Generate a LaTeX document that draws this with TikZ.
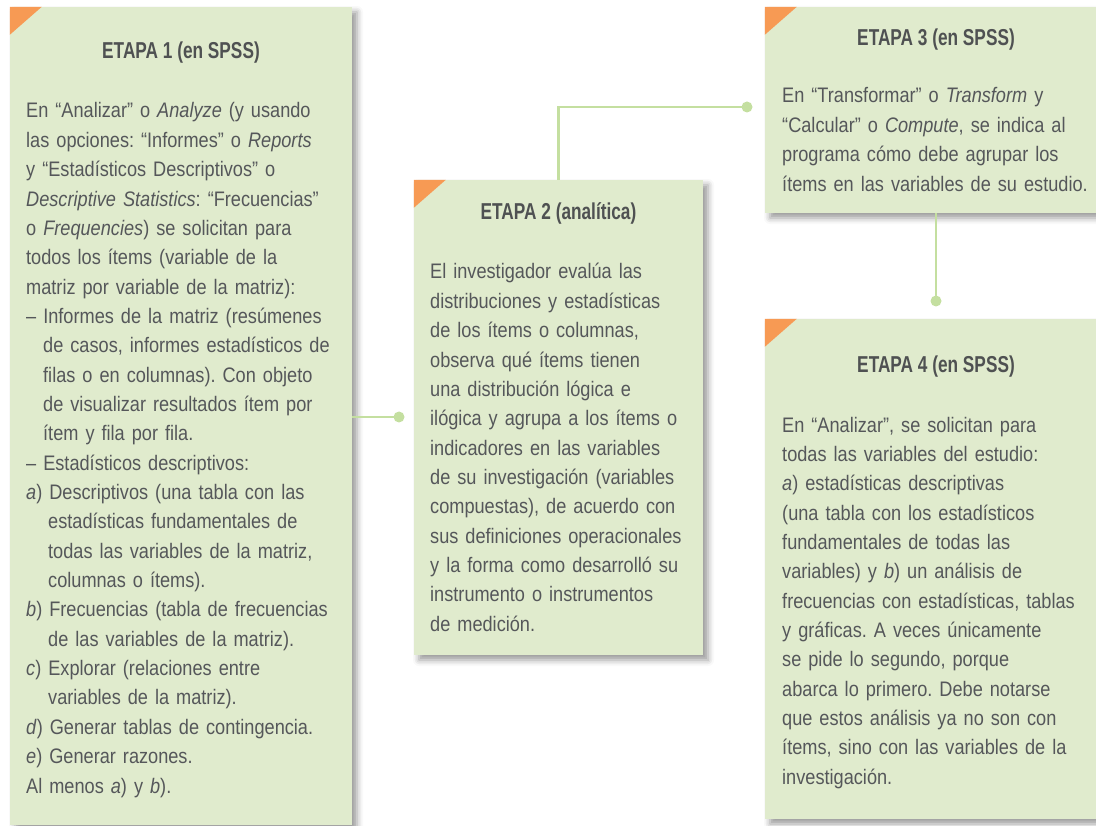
\documentclass[tikz,border=0pt]{standalone}
\usepackage{fontspec}
\setmainfont[FakeStretch=0.865]{Liberation Sans}
\newfontfamily\headfont[FakeStretch=0.75]{Liberation Sans}
\usepackage{tikz}
\usetikzlibrary{positioning, calc, shadows.blur}
\definecolor{boxfill}{HTML}{E0EBCD}
\definecolor{tabcolor}{HTML}{F79A54}
\definecolor{linkgreen}{HTML}{C4DFA0}
\definecolor{textgray}{HTML}{55575A}
\definecolor{headgray}{HTML}{4F5152}
\frenchspacing

\begin{document}
\begin{tikzpicture}[x=1pt, y=-1pt,
    stage/.style={fill=boxfill, inner sep=0pt,
      blur shadow={shadow xshift=5pt, shadow yshift=-5pt, shadow blur radius=6pt, shadow opacity=40}},
    heading/.style={font=\headfont\bfseries\fontsize{23}{28}\selectfont, text=headgray, anchor=base, inner sep=0pt},
    body/.style={font=\fontsize{21}{29.35}\selectfont, text=textgray, anchor=base west, inner sep=0pt, text width=330pt, align=left},
    link/.style={draw=linkgreen, line width=2.8pt},
    dot/.style={fill=linkgreen}
  ]
    \useasboundingbox (0,0) rectangle (1096,826);

    % Boxes
    \node[stage, minimum width=342pt, minimum height=818pt] (e1) at (181,416) {};
    \node[stage, minimum width=289pt, minimum height=475pt] (e2) at (558.5,417.5) {};
    \node[stage, minimum width=342pt, minimum height=206pt] (e3) at (936,110) {};
    \node[stage, minimum width=342pt, minimum height=500pt] (e4) at (936,569) {};

    % Orange corners
    \foreach \b in {e1,e2,e3,e4}
      \fill[tabcolor] (\b.north west) -- ++(32,0) -- ++(-32,28) -- cycle;

    % Headings
    \node[heading] (h1) at (181,59) {ETAPA 1 (en SPSS)};
    \node[heading] (h2) at (558.5,220) {ETAPA 2 (analítica)};
    \node[heading] (h3) at (936,46) {ETAPA 3 (en SPSS)};
    \node[heading] (h4) at (936,372.5) {ETAPA 4 (en SPSS)};

    % Etapa 1
    \node[body] (t1) at (26,118) {
      En “Analizar” o \textit{Analyze} (y usando\\
      las opciones: “Informes” o \textit{Reports}\\
      y “Estadísticos Descriptivos” o\\
      \textit{Descriptive Statistics}: “Frecuencias”\\
      o \textit{Frequencies}) se solicitan para\\
      todos los ítems (variable de la\\
      matriz por variable de la matriz):\\
      – Informes de la matriz (resúmenes\\
      \hspace*{17pt}de casos, informes estadísticos de\\
      \hspace*{17pt}filas o en columnas). Con objeto\\
      \hspace*{17pt}de visualizar resultados ítem por\\
      \hspace*{17pt}ítem y fila por fila.\\
      – Estadísticos descriptivos:\\
      \textit{a}) Descriptivos (una tabla con las\\
      \hspace*{22pt}estadísticas fundamentales de\\
      \hspace*{22pt}todas las variables de la matriz,\\
      \hspace*{22pt}columnas o ítems).\\
      \textit{b}) Frecuencias (tabla de frecuencias\\
      \hspace*{22pt}de las variables de la matriz).\\
      \textit{c}) Explorar (relaciones entre\\
      \hspace*{22pt}variables de la matriz).\\
      \textit{d}) Generar tablas de contingencia.\\
      \textit{e}) Generar razones.\\
      Al menos \textit{a}) y \textit{b}).
    };

    % Etapa 2
    \node[body] (t2) at (430,279) {
      El investigador evalúa las\\
      distribuciones y estadísticas\\
      de los ítems o columnas,\\
      observa qué ítems tienen\\
      una distribución lógica e\\
      ilógica y agrupa a los ítems o\\
      indicadores en las variables\\
      de su investigación (variables\\
      compuestas), de acuerdo con\\
      sus definiciones operacionales\\
      y la forma como desarrolló su\\
      instrumento o instrumentos\\
      de medición.
    };

    % Etapa 3
    \node[body] (t3) at (782,103) {
      En “Transformar” o \textit{Transform} y\\
      “Calcular” o \textit{Compute}, se indica al\\
      programa cómo debe agrupar los\\
      ítems en las variables de su estudio.
    };

    % Etapa 4
    \node[body] (t4) at (782,432) {
      En “Analizar”, se solicitan para\\
      todas las variables del estudio:\\
      \textit{a}) estadísticas descriptivas\\
      (una tabla con los estadísticos\\
      fundamentales de todas las\\
      variables) y \textit{b}) un análisis de\\
      frecuencias con estadísticas, tablas\\
      y gráficas. A veces únicamente\\
      se pide lo segundo, porque\\
      abarca lo primero. Debe notarse\\
      que estos análisis ya no son con\\
      ítems, sino con las variables de la\\
      investigación.
    };

    % Connectors
    \coordinate (d1) at (399,417);
    \coordinate (d2) at (747,107);
    \coordinate (d3) at (936,301);
    \draw[link] (e1.east |- d1) -- (d1);
    \draw[link] (e2.north) |- (d2);
    \draw[link] (e3.south) -- (d3);
    \foreach \d in {d1,d2,d3}
      \fill[dot] (\d) circle (5.5pt);

  \end{tikzpicture}
\end{document}
